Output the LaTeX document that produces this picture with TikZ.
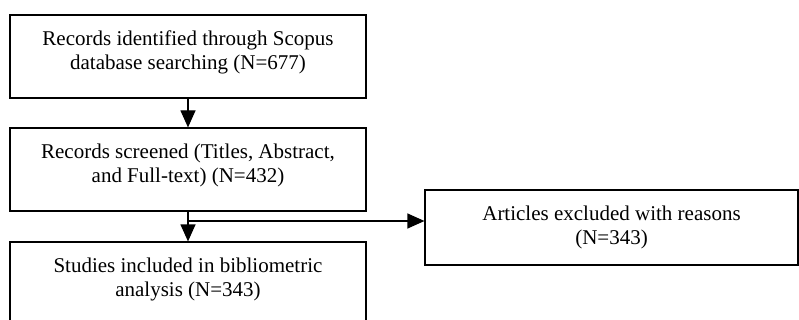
\documentclass[tikz,border=0pt]{standalone}
\usepackage{fontspec}
\setmainfont{Liberation Serif}
\usepackage{tikz}
\usetikzlibrary{positioning,arrows.meta}

\tikzset{
  box/.style={draw, line width=1.2pt, minimum width=356pt, minimum height=83pt, inner sep=0pt},
  txt/.style={align=center, inner sep=0pt, font=\fontsize{21}{24}\selectfont},
  arr/.style={-{Triangle[width=15pt,length=17pt]}, line width=1.2pt}
}

\begin{document}
\begin{tikzpicture}[x=1pt, y=-1pt]
\useasboundingbox (0,0) rectangle (799,320);

\coordinate (R) at (188,56.5);
\coordinate (S) at (188,169.5);
\coordinate (I) at (188,283.5);
\coordinate (E) at (611.5,227.5);
\coordinate (split) at (188,221);

\node[box] (records) at (R) {};
\node[box] (screened) at (S) {};
\node[box] (included) at (I) {};
\node[box, minimum width=373pt, minimum height=75pt] (excluded) at (E) {};

\node[txt, below=16pt of records.north] (recordsTxt)
  {Records identified through Scopus\\database searching (N=677)};
\node[txt, below=16pt of screened.north] (screenedTxt)
  {Records screened (Titles, Abstract,\\and Full-text) (N=432)};
\node[txt, below=16pt of included.north] (includedTxt)
  {Studies included in bibliometric\\analysis (N=343)};
\node[txt, below=16pt of excluded.north] (excludedTxt)
  {Articles excluded with reasons\\(N=343)};

\draw[arr] (records.south) -- (screened.north);
\draw[arr] (screened.south) -- (included.north);
\draw[arr] (split) -- (split -| excluded.west);
\end{tikzpicture}
\end{document}
